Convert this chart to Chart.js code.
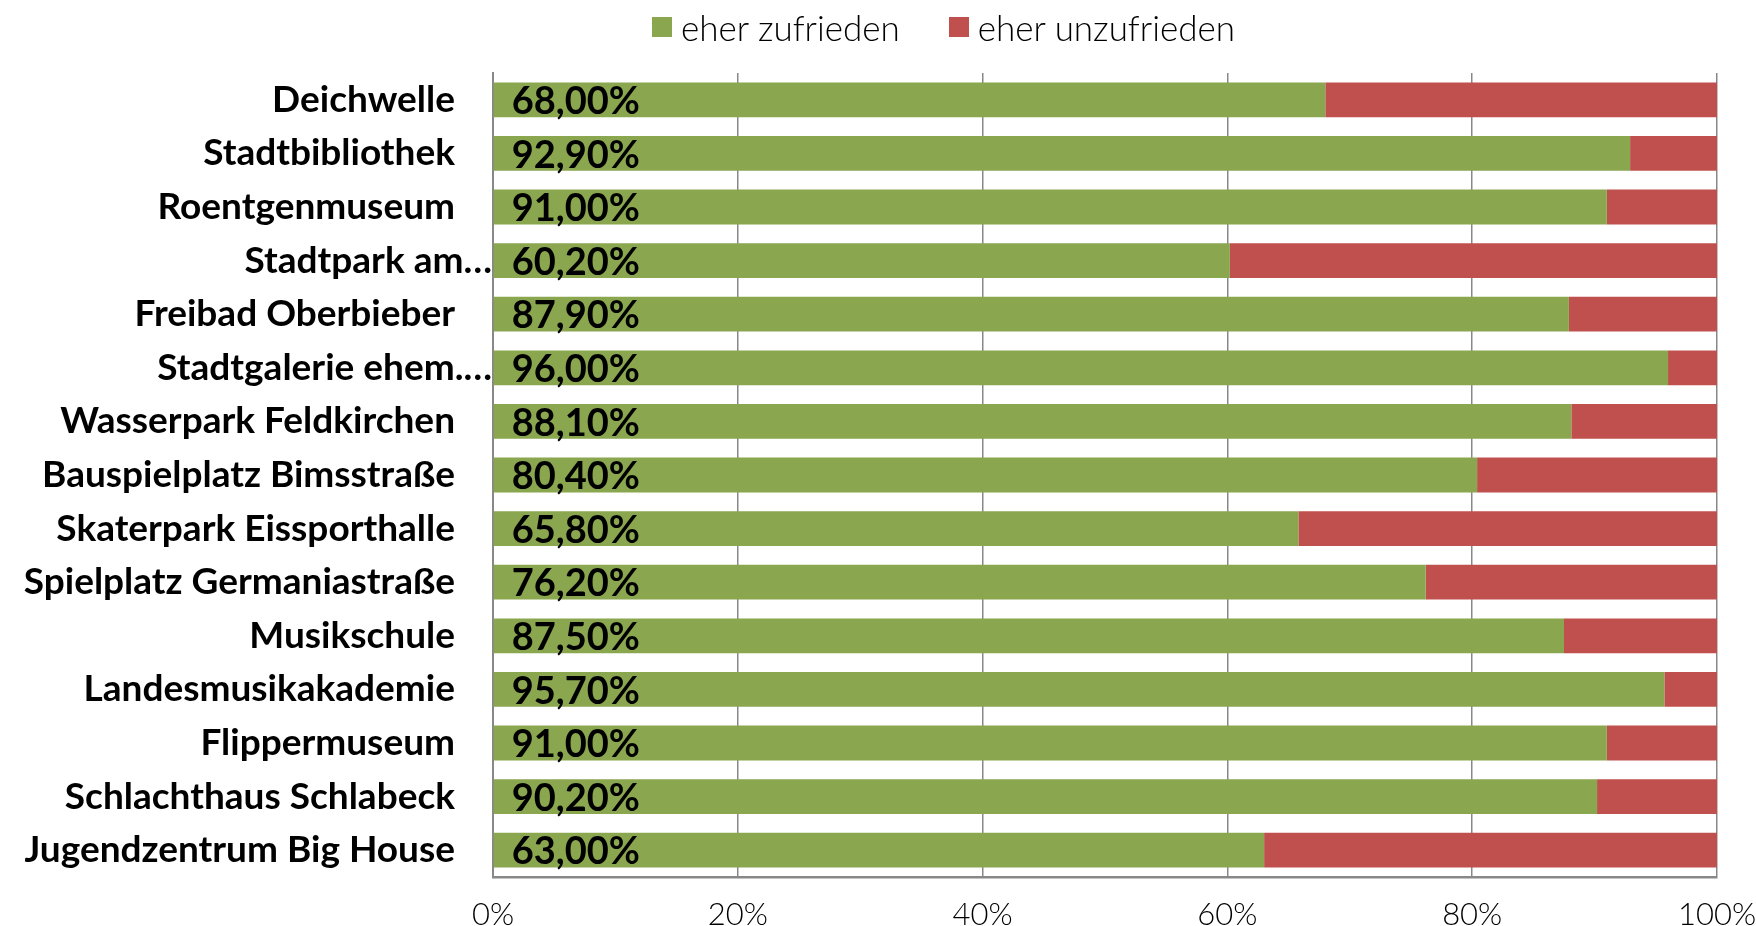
<!DOCTYPE html>
<html>
<head>
<meta charset="utf-8">
<script src="https://cdn.jsdelivr.net/npm/chart.js@4"></script>
<style>
  body { margin: 0; background: #fff; }
  #wrap { position: relative; width: 1756px; height: 926px; }
  #legend { position: absolute; top: 7px; left: 652px; height: 40px; display: flex; align-items: center;
            font-family: Lato, sans-serif; font-weight: 300; font-size: 35px; line-height: 40px; color: #000; }
  #legend span.box { display: inline-block; width: 20px; height: 20px; margin-right: 9px; }
  #legend .item { display: flex; align-items: center; margin-right: 49px; }
</style>
</head>
<body>
<div id="wrap">
  <canvas id="chart" width="1756" height="926"></canvas>
  <div id="legend"></div>
</div>
<script>
// categories and values
var categories = ['Deichwelle', 'Stadtbibliothek', 'Roentgenmuseum', 'Stadtpark am…', 'Freibad Oberbieber',
    'Stadtgalerie ehem.…', 'Wasserpark Feldkirchen', 'Bauspielplatz Bimsstraße', 'Skaterpark Eissporthalle',
    'Spielplatz Germaniastraße', 'Musikschule', 'Landesmusikakademie', 'Flippermuseum',
    'Schlachthaus Schlabeck', 'Jugendzentrum Big House'];
var zufrieden = [68.0, 92.9, 91.0, 60.2, 87.9, 96.0, 88.1, 80.4, 65.8, 76.2, 87.5, 95.7, 91.0, 90.2, 63.0];
var unzufrieden = [32.0, 7.1, 9.0, 39.8, 12.1, 4.0, 11.9, 19.6, 34.2, 23.8, 12.5, 4.3, 9.0, 9.8, 37.0];
var seriesNames = ['eher zufrieden', 'eher unzufrieden'];
var xTicks = [0, 20, 40, 60, 80, 100];

var green = '#8AA64F';
var red = '#C0504D';

// labels written inside the green bars
var barLabels = {
    id: 'barLabels',
    afterDatasetsDraw: function(chart) {
        var ctx = chart.ctx;
        var meta = chart.getDatasetMeta(0);
        ctx.save();
        ctx.font = 'bold 38px Lato, sans-serif';
        ctx.fillStyle = '#000';
        ctx.textAlign = 'left';
        ctx.textBaseline = 'middle';
        meta.data.forEach(function(bar, i) {
            var txt = zufrieden[i].toFixed(2).replace('.', ',') + '%';
            ctx.fillText(txt, bar.base + 18, bar.y + 2);
        });
        ctx.restore();
    }
};

var legendEl = document.getElementById('legend');
[green, red].forEach(function(c, i) {
    var item = document.createElement('div');
    item.className = 'item';
    item.innerHTML = '<span class="box" style="background:' + c + '"></span>' + seriesNames[i];
    legendEl.appendChild(item);
});

var ctx = document.getElementById('chart').getContext('2d');
var chart = new Chart(ctx, {
    type: 'bar',
    data: {
        labels: categories,
        datasets: [
            { label: seriesNames[0], data: zufrieden, backgroundColor: green, borderWidth: 0,
              barPercentage: 0.65, categoryPercentage: 1 },
            { label: seriesNames[1], data: unzufrieden, backgroundColor: red, borderWidth: 0,
              barPercentage: 0.65, categoryPercentage: 1 }
        ]
    },
    options: {
        indexAxis: 'y',
        responsive: false,
        animation: false,
        layout: { padding: { top: 73, right: 39, bottom: 0, left: 0 } },
        plugins: {
            legend: { display: false },
            tooltip: { enabled: false }
        },
        scales: {
            x: {
                stacked: true,
                min: 0,
                max: 100,
                afterBuildTicks: function(scale) {
                    scale.ticks = xTicks.map(function(v) { return { value: v }; });
                },
                afterFit: function(scale) {
                    scale.height = 49;
                    scale.paddingLeft = 0;
                    scale.paddingRight = 0;
                },
                grid: { color: '#888', lineWidth: 1.5, drawTicks: false },
                border: { color: '#888', width: 2.5 },
                ticks: {
                    padding: 19,
                    color: '#000',
                    font: { family: 'Lato', weight: 300, size: 31 },
                    callback: function(v) { return v + '%'; }
                }
            },
            y: {
                stacked: true,
                afterFit: function(scale) { scale.width = 493; },
                grid: { display: false, drawTicks: false },
                border: { color: '#888', width: 2 },
                ticks: {
                    padding: 1,
                    color: '#000',
                    font: { family: 'Lato', weight: 'bold', size: 37 },
                    // truncated names run up to the axis, the others stop short of it
                    callback: function(v, i) {
                        var name = categories[i];
                        return name.slice(-1) === '…' ? name : name + '\u2002\u2002';
                    }
                }
            }
        }
    },
    plugins: [barLabels]
});
</script>
</body>
</html>
